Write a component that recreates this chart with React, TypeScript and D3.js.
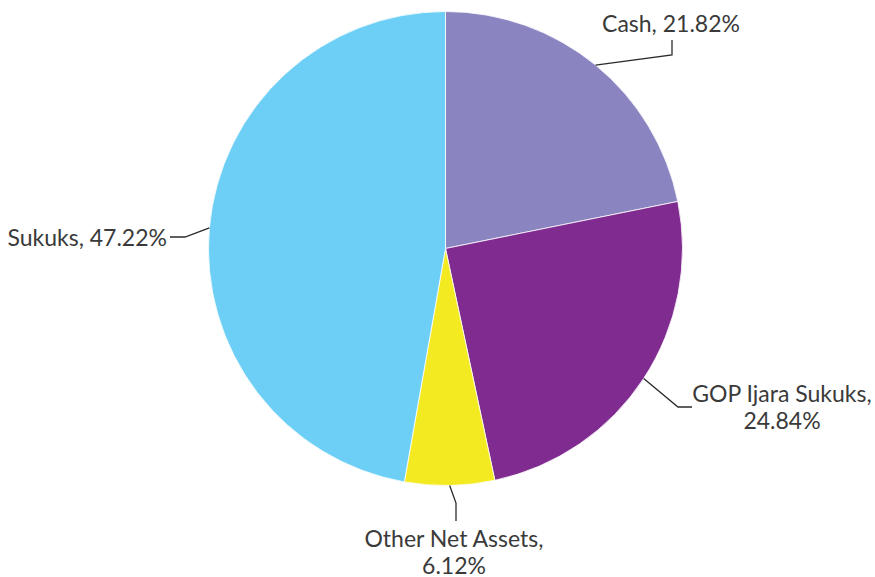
import React from "react";
import * as d3 from "d3";

const categories = ["Cash", "GOP Ijara Sukuks", "Other Net Assets", "Sukuks"];
const values = [21.82, 24.84, 6.12, 47.22];
const colors = ["#8a84c0", "#7f2b8f", "#f4ea22", "#6dcff6"];

// label layout: text anchor, lines, leader elbow/end
const labelLayout = [
  { lines: ["Cash, 21.82%"], x: 671, y: 32, anchor: "middle", elbow: [672, 55], end: [672, 40] },
  { lines: ["GOP Ijara Sukuks,", "24.84%"], x: 782, y: 402, anchor: "middle", elbow: [678, 407], end: [692, 407] },
  { lines: ["Other Net Assets,", "6.12%"], x: 454, y: 547, anchor: "middle", elbow: [456, 503], end: [456, 521] },
  { lines: ["Sukuks, 47.22%"], x: 167, y: 246, anchor: "end", elbow: [185, 237], end: [170, 237] },
];

export default function App() {
  const W = 875, H = 577;
  const cx = 445.5, cy = 248.5, r = 237;
  const pie = d3.pie<number>().sort(null).value((d) => d);
  const arcs = pie(values);
  const arc = d3.arc<d3.PieArcDatum<number>>().innerRadius(0).outerRadius(r);
  return (
    <svg width={W} height={H} style={{ position: "absolute", left: 0, top: 0, background: "#fff" }}>
      <g transform={`translate(${cx},${cy})`}>
        {arcs.map((a, i) => (
          <path key={i} d={arc(a) || ""} fill={colors[i]} stroke="#fff" strokeWidth={0.8} />
        ))}
      </g>
      {arcs.map((a, i) => {
        const mid = (a.startAngle + a.endAngle) / 2;
        const sx = cx + r * Math.sin(mid);
        const sy = cy - r * Math.cos(mid);
        const L = labelLayout[i];
        return (
          <g key={"l" + i}>
            <polyline
              points={`${sx},${sy} ${L.elbow[0]},${L.elbow[1]} ${L.end[0]},${L.end[1]}`}
              fill="none"
              stroke="#2b2b2b"
              strokeWidth={1.3}
            />
            <text
              x={L.x}
              y={L.y}
              textAnchor={L.anchor as any}
              fontFamily="Lato, 'Open Sans', sans-serif"
              fontSize={23}
              fill="#3a3a3a"
            >
              {L.lines.map((t, j) => (
                <tspan key={j} x={L.x} dy={j === 0 ? 0 : 26.5}>
                  {t}
                </tspan>
              ))}
            </text>
          </g>
        );
      })}
    </svg>
  );
}
